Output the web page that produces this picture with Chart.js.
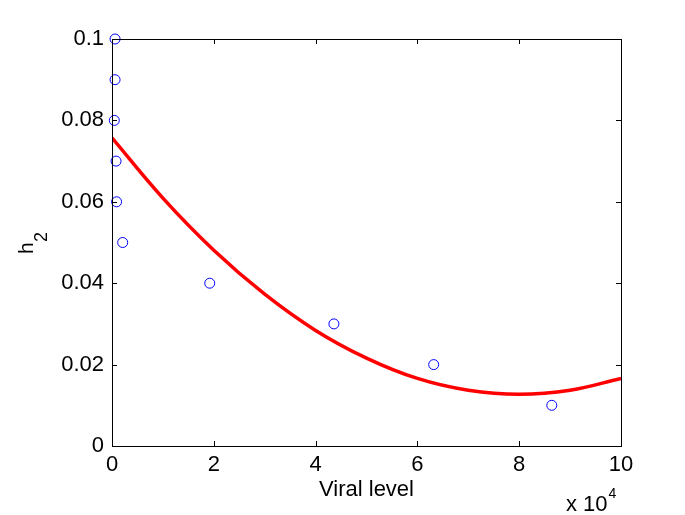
<!DOCTYPE html>
<html>
<head>
<meta charset="utf-8">
<script src="https://cdn.jsdelivr.net/npm/chart.js@4"></script>
<style>
  html, body { margin: 0; padding: 0; background: #fff; }
  #wrap { width: 685px; height: 515px; }
</style>
</head>
<body>
<div id="wrap"><canvas id="chart" width="685" height="515"></canvas></div>
<script>
// measured points (x in units of 10^4)
const dataX = [0.06, 0.06, 0.045, 0.08, 0.09, 0.21, 1.92, 4.36, 6.32, 8.64];
const dataY = [0.10, 0.09, 0.08, 0.07, 0.06, 0.05, 0.04, 0.03, 0.02, 0.01];

// fitted curve
const fitX = [0, 1, 2, 3, 4, 5, 6, 7, 8, 9, 10];
const fitY = [0.0757, 0.0609, 0.0481, 0.0373, 0.0284, 0.0216, 0.0166, 0.0137, 0.0127, 0.0137, 0.0166];

const xTicks = [0, 2, 4, 6, 8, 10];
const yTicks = [0, 0.02, 0.04, 0.06, 0.08, 0.1];

const FONT = 'Helvetica, "Liberation Sans", Arial, sans-serif';

// box + inward ticks, like the matlab axes
const boxPlugin = {
    id: 'box',
    afterDraw(chart) {
        const ctx = chart.ctx;
        const a = chart.chartArea;
        const xs = chart.scales.x, ys = chart.scales.y;
        ctx.save();
        ctx.strokeStyle = '#000';
        ctx.lineWidth = 1;
        ctx.strokeRect(a.left + 0.5, a.top + 0.5, a.right - a.left, a.bottom - a.top);
        ctx.beginPath();
        xTicks.forEach(v => {
            const px = Math.round(xs.getPixelForValue(v)) + 0.5;
            ctx.moveTo(px, a.bottom); ctx.lineTo(px, a.bottom - 5);
            ctx.moveTo(px, a.top); ctx.lineTo(px, a.top + 5);
        });
        yTicks.forEach(v => {
            const py = Math.round(ys.getPixelForValue(v)) + 0.5;
            ctx.moveTo(a.left, py); ctx.lineTo(a.left + 5, py);
            ctx.moveTo(a.right, py); ctx.lineTo(a.right - 5, py);
        });
        ctx.stroke();

        // y label h_2
        ctx.fillStyle = '#000';
        ctx.translate(33, 240);
        ctx.rotate(-Math.PI / 2);
        ctx.font = '21px ' + FONT;
        ctx.textAlign = 'left';
        ctx.textBaseline = 'alphabetic';
        ctx.fillText('h', -14, 0);
        ctx.font = '18px ' + FONT;
        ctx.fillText('2', -2, 14);
        ctx.restore();

        // exponent label
        ctx.save();
        ctx.fillStyle = '#000';
        ctx.font = '22px ' + FONT;
        ctx.textBaseline = 'alphabetic';
        ctx.fillText('x 10', 566, 511);
        const w = ctx.measureText('x 10').width;
        ctx.font = '14px ' + FONT;
        ctx.fillText('4', 566 + w + 1, 498);
        ctx.restore();
    }
};

new Chart(document.getElementById('chart'), {
    type: 'scatter',
    data: {
        datasets: [
            {
                label: 'data',
                data: dataX.map((x, i) => ({ x: x, y: dataY[i] })),
                showLine: false,
                clip: false,
                pointStyle: 'circle',
                pointRadius: 5,
                pointBorderWidth: 1,
                pointBorderColor: '#0000ff',
                pointBackgroundColor: 'rgba(0,0,0,0)'
            },
            {
                label: 'fit',
                data: fitX.map((x, i) => ({ x: x, y: fitY[i] })),
                showLine: true,
                borderColor: '#ff0000',
                borderWidth: 3.5,
                tension: 0.4,
                pointRadius: 0
            }
        ]
    },
    options: {
        responsive: false,
        animation: false,
        layout: { padding: { left: 0, right: 64, top: 39, bottom: 0 } },
        plugins: { legend: { display: false }, tooltip: { enabled: false } },
        scales: {
            x: {
                type: 'linear',
                min: 0, max: 10,
                afterBuildTicks: s => { s.ticks = xTicks.map(v => ({ value: v })); },
                afterFit: s => { s.height = 69; },
                grid: { display: false, drawTicks: false },
                border: { display: false },
                ticks: { color: '#000', font: { size: 22, family: FONT }, padding: 6, maxRotation: 0 },
                title: { display: true, text: 'Viral level', color: '#000', font: { size: 22, family: FONT }, padding: { top: 0, bottom: 12 } }
            },
            y: {
                type: 'linear',
                min: 0, max: 0.1,
                afterBuildTicks: s => { s.ticks = yTicks.map(v => ({ value: v })); },
                afterFit: s => { s.width = 112; },
                grid: { display: false, drawTicks: false },
                border: { display: false },
                ticks: { color: '#000', font: { size: 22, family: FONT }, padding: 8,
                    callback: v => String(Math.round(v * 100) / 100) }
            }
        }
    },
    plugins: [boxPlugin]
});
</script>
</body>
</html>
